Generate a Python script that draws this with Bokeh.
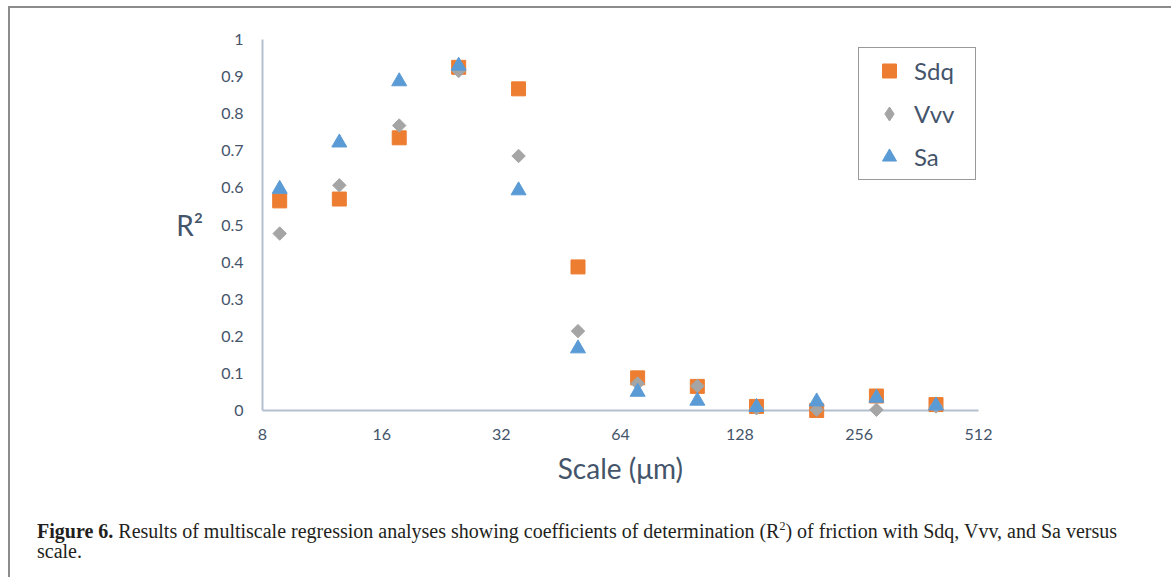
from bokeh.plotting import figure
from bokeh.layouts import column
from bokeh.models import (Range1d, FixedTicker, CustomJSTickFormatter, Div,
                          Legend, LegendItem)
from bokeh.embed import file_html
from bokeh.resources import INLINE

# ---- data ----
scales = [8.84, 12.5, 17.7, 25, 35.4, 50, 70.7, 100, 141, 200, 283, 400]
sdq = [0.565, 0.570, 0.735, 0.925, 0.867, 0.387, 0.088, 0.065, 0.011, 0.000, 0.039, 0.016]
vvv = [0.477, 0.607, 0.768, 0.915, 0.686, 0.214, 0.073, 0.066, 0.006, 0.002, 0.002, 0.011]
sa = [0.597, 0.722, 0.887, 0.929, 0.593, 0.167, 0.050, 0.026, 0.009, 0.024, 0.034, 0.013]
series_names = ["Sdq", "Vvv", "Sa"]
x_ticks = [8, 16, 32, 64, 128, 256, 512]
y_ticks = [0, 0.1, 0.2, 0.3, 0.4, 0.5, 0.6, 0.7, 0.8, 0.9, 1.0]
x_label = "Scale (μm)"
y_label = "R²"
caption_html = ("<b>Figure 6.</b> Results of multiscale regression analyses showing "
                "coefficients of determination (R<sup style='font-size:12px;line-height:0'>2</sup>) of friction "
                "with Sdq, Vvv, and Sa versus<br>scale.")

TEXT = "#44546a"
AXIS = "#b4bfcf"
FONT = "Lato"

W, H = 1154, 500
p = figure(width=W, height=H, x_axis_type="log",
           x_range=Range1d(8, 512), y_range=Range1d(0, 1),
           output_backend="svg", toolbar_location=None,
           min_border_left=252, min_border_right=186,
           min_border_top=31, min_border_bottom=98)
p.grid.visible = False
p.outline_line_color = None
p.background_fill_color = "white"
p.border_fill_color = "white"

xa = p.xaxis[0]
xa.ticker = FixedTicker(ticks=x_ticks, minor_ticks=[])
xa.formatter = CustomJSTickFormatter(code="return Math.round(tick).toString()")
ya = p.yaxis[0]
ya.ticker = FixedTicker(ticks=y_ticks, minor_ticks=[])
ya.formatter = CustomJSTickFormatter(code="return (Math.round(tick*10)/10).toString()")
for ax in (xa, ya):
    ax.major_tick_line_color = None
    ax.minor_tick_line_color = None
    ax.major_tick_out = 0
    ax.major_tick_in = 0
    ax.axis_line_color = AXIS
    ax.axis_line_width = 2
    ax.major_label_text_font = FONT
    ax.major_label_text_font_size = "16px"
    ax.major_label_text_color = TEXT
    ax.axis_label_text_font = FONT
    ax.axis_label_text_font_size = "28px"
    ax.axis_label_text_font_style = "normal"
    ax.axis_label_text_color = TEXT
xa.major_label_standoff = 18
ya.major_label_standoff = 19
xa.axis_label = x_label
xa.axis_label_standoff = 8
ya.axis_label = y_label
ya.axis_label_standoff = 15
try:
    ya.axis_label_orientation = "horizontal"
except Exception:
    pass

r1 = p.scatter(scales, sdq, marker="square", size=14, color="#ED7D31", level="overlay")
r2 = p.scatter(scales, vvv, marker="square", size=9.5, angle=0.785398, color="#A5A5A5", level="overlay")
r3 = p.scatter(scales, sa, marker="triangle", size=15, color="#5B9BD5", level="overlay")
# hidden twin of the Vvv series, used only as its legend key (legend glyphs ignore angle)
r2_key = p.scatter(scales, vvv, marker="diamond", size=15, color="#A5A5A5", visible=False)

legend = Legend(items=[LegendItem(label=series_names[0], renderers=[r1]),
                       LegendItem(label=series_names[1], renderers=[r2_key]),
                       LegendItem(label=series_names[2], renderers=[r3])],
                location=(596, 230), margin=0, padding=5, spacing=8,
                glyph_width=50, glyph_height=35, label_height=35,
                label_standoff=0, label_width=56,
                label_text_font=FONT, label_text_font_size="24px",
                label_text_color=TEXT,
                inactive_fill_alpha=0,
                border_line_color="#333333", border_line_width=1.5,
                background_fill_color="white", background_fill_alpha=1)
p.add_layout(legend)

cap = Div(text=caption_html, width=W, height=577 - 8 - H,
          styles={"font-family": "Liberation Serif", "font-size": "20px",
                  "line-height": "20px", "color": "#231f20",
                  "padding-left": "22px", "padding-top": "8px",
                  "white-space": "nowrap", "box-sizing": "border-box"})

layout = column(p, cap, spacing=0,
                styles={"margin-left": "8px", "margin-top": "6px",
                        "border-left": "2px solid #8c8c8c",
                        "border-top": "2px solid #8c8c8c",
                        "border-right": "2px solid #8c8c8c",
                        "background-color": "white"})

open("out.html", "w").write(file_html(layout, INLINE))
